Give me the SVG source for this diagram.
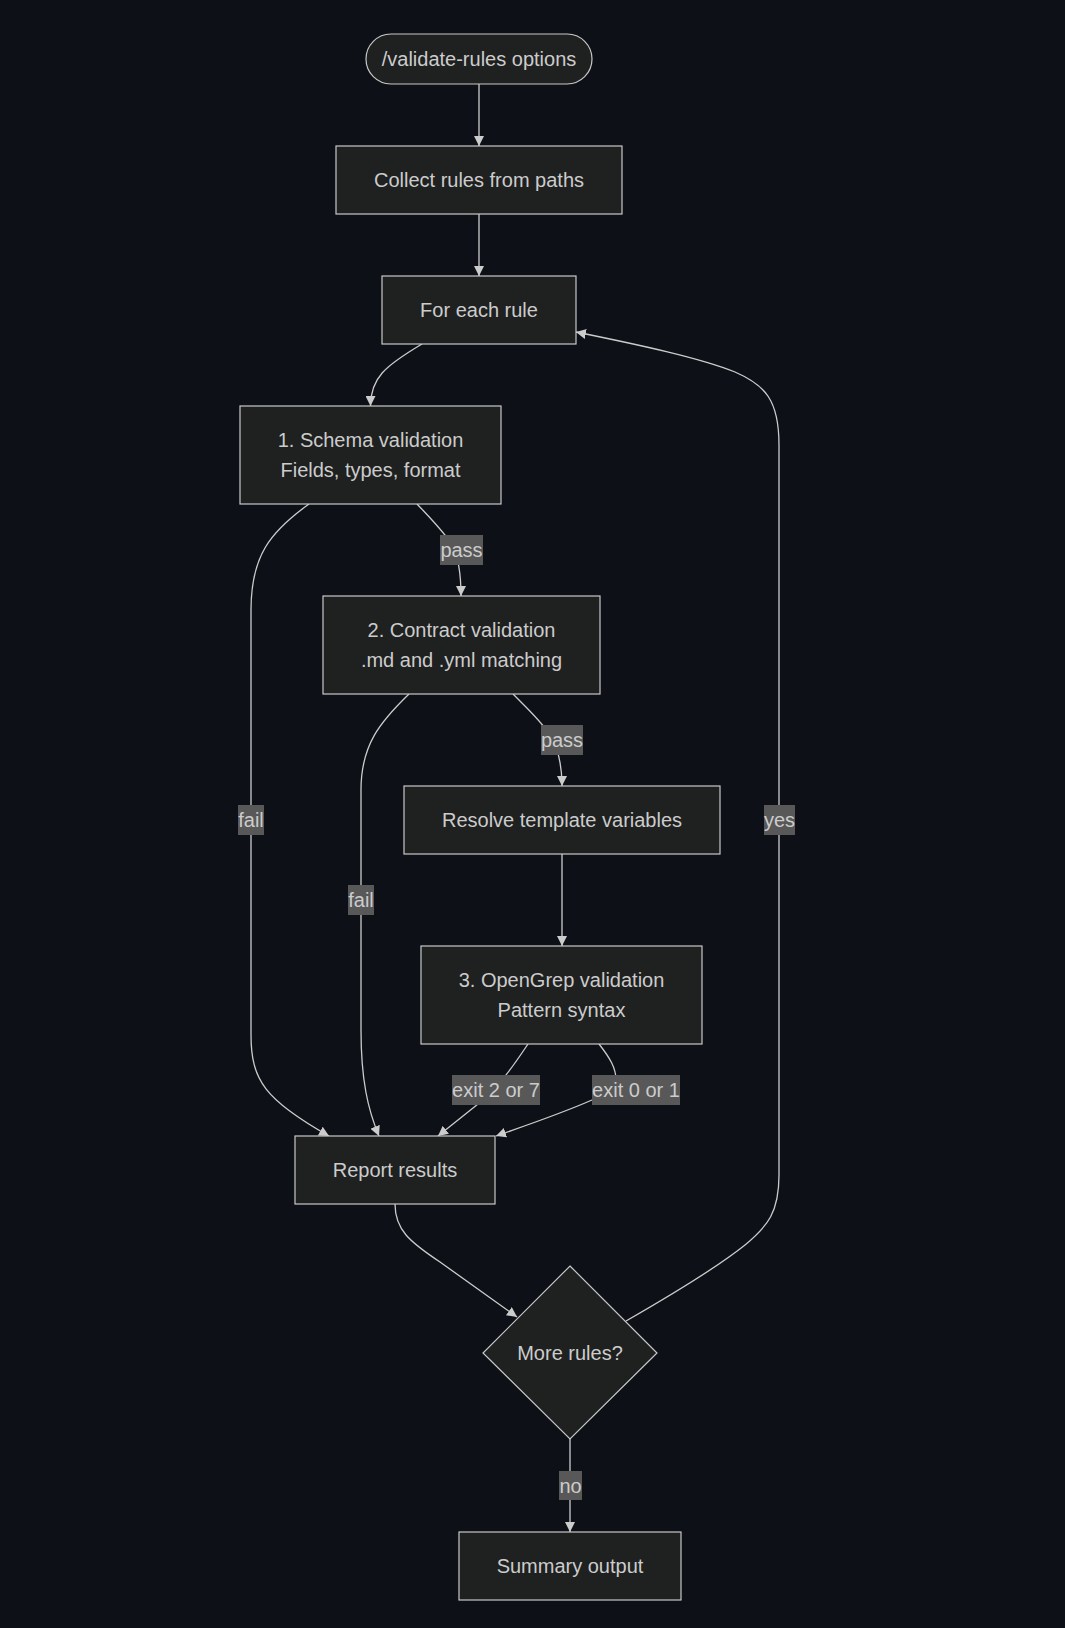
<svg xmlns="http://www.w3.org/2000/svg" width="1065" height="1628" viewBox="0 0 1065 1628">
<style>
.node rect, .node polygon { fill: #1f2020; stroke: #c8c8c8; stroke-width: 1.2; }
.node text { fill: #cccccc; font-family: "Liberation Sans", Arial, sans-serif; font-size: 20px; text-anchor: middle; dominant-baseline: central; }
.edge { fill: none; stroke: #cccccc; stroke-width: 1.3; }
.lbl rect { fill: #585858; }
.lbl text { fill: #cccccc; font-family: "Liberation Sans", Arial, sans-serif; font-size: 20px; text-anchor: middle; dominant-baseline: central; }
</style>
<defs>
<marker id="arr" viewBox="0 0 10 10" markerWidth="10" markerHeight="10" markerUnits="userSpaceOnUse" refX="10" refY="5" orient="auto">
<path d="M0,0 L10,5 L0,10 z" fill="#cccccc"/>
</marker>
</defs>
<rect x="0" y="0" width="1065" height="1628" fill="#0d1117"/>
<g id="connectors">
<path class="edge" d="M479,84 L479,146" marker-end="url(#arr)"/>
<path class="edge" d="M479,214 L479,276" marker-end="url(#arr)"/>
<path class="edge" d="M422,344 C385,366 370.5,378 370.5,406" marker-end="url(#arr)"/>
<path class="edge" d="M417,504 C433,521 445,533 452,545 C459,558 461,575 461,596" marker-end="url(#arr)"/>
<path class="edge" d="M309,504 C270,532 251,556 251,610 L251,1035 C251,1080 265,1100 329,1136" marker-end="url(#arr)"/>
<path class="edge" d="M409,694 C380,722 361,745 361,790 L361,1030 C361,1080 368,1110 379,1136" marker-end="url(#arr)"/>
<path class="edge" d="M513,694 C528,709 542,722 550,735 C558,748 562,765 562,786" marker-end="url(#arr)"/>
<path class="edge" d="M562,854 L562,946" marker-end="url(#arr)"/>
<path class="edge" d="M528,1044 C512,1068 500,1085 478,1104 L438,1136" marker-end="url(#arr)"/>
<path class="edge" d="M599,1044 C610,1058 616,1068 616,1080 C616,1092 600,1097 592,1100 C560,1114 530,1124 496,1136" marker-end="url(#arr)"/>
<path class="edge" d="M395,1204 C395,1230 410,1242 440,1262 L517,1317" marker-end="url(#arr)"/>
<path class="edge" d="M626,1321 C680,1290 720,1265 745,1245 C768,1226 779,1212 779,1175 L779,445 C779,400 765,385 735,372 C700,358 640,345 576,332" marker-end="url(#arr)"/>
<path class="edge" d="M570,1439 L570,1532" marker-end="url(#arr)"/>
</g>
<g id="edge-labels">
<g class="lbl"><rect x="440" y="535" width="43" height="30"/><text x="461.5" y="550">pass</text></g>
<g class="lbl"><rect x="541" y="725" width="42" height="30"/><text x="562" y="740">pass</text></g>
<g class="lbl"><rect x="238" y="805" width="26" height="30"/><text x="251" y="820">fail</text></g>
<g class="lbl"><rect x="348" y="885" width="26" height="30"/><text x="361" y="900">fail</text></g>
<g class="lbl"><rect x="764" y="805" width="31" height="30"/><text x="779.5" y="820">yes</text></g>
<g class="lbl"><rect x="452" y="1075" width="88" height="30"/><text x="496" y="1090">exit 2 or 7</text></g>
<g class="lbl"><rect x="592" y="1075" width="88" height="30"/><text x="636" y="1090">exit 0 or 1</text></g>
<g class="lbl"><rect x="559" y="1471" width="23" height="29"/><text x="570.5" y="1485.5">no</text></g>
</g>
<g id="node-start" class="node"><rect x="366" y="34" width="226" height="50" rx="25" ry="25"/><text x="479" y="59">/validate-rules options</text></g>
<g id="node-collect" class="node"><rect x="336" y="146" width="286" height="68"/><text x="479" y="180">Collect rules from paths</text></g>
<g id="node-foreach" class="node"><rect x="382" y="276" width="194" height="68"/><text x="479" y="310">For each rule</text></g>
<g id="node-schema" class="node"><rect x="240" y="406" width="261" height="98"/><text x="370.5" y="440">1. Schema validation</text><text x="370.5" y="470">Fields, types, format</text></g>
<g id="node-contract" class="node"><rect x="323" y="596" width="277" height="98"/><text x="461.5" y="630">2. Contract validation</text><text x="461.5" y="660">.md and .yml matching</text></g>
<g id="node-resolve" class="node"><rect x="404" y="786" width="316" height="68"/><text x="562" y="820">Resolve template variables</text></g>
<g id="node-opengrep" class="node"><rect x="421" y="946" width="281" height="98"/><text x="561.5" y="980">3. OpenGrep validation</text><text x="561.5" y="1010">Pattern syntax</text></g>
<g id="node-report" class="node"><rect x="295" y="1136" width="200" height="68"/><text x="395" y="1170">Report results</text></g>
<g id="node-more" class="node"><polygon points="570,1266 657,1353 570,1439 483,1353"/><text x="570" y="1353">More rules?</text></g>
<g id="node-summary" class="node"><rect x="459" y="1532" width="222" height="68"/><text x="570" y="1566">Summary output</text></g>
</svg>
